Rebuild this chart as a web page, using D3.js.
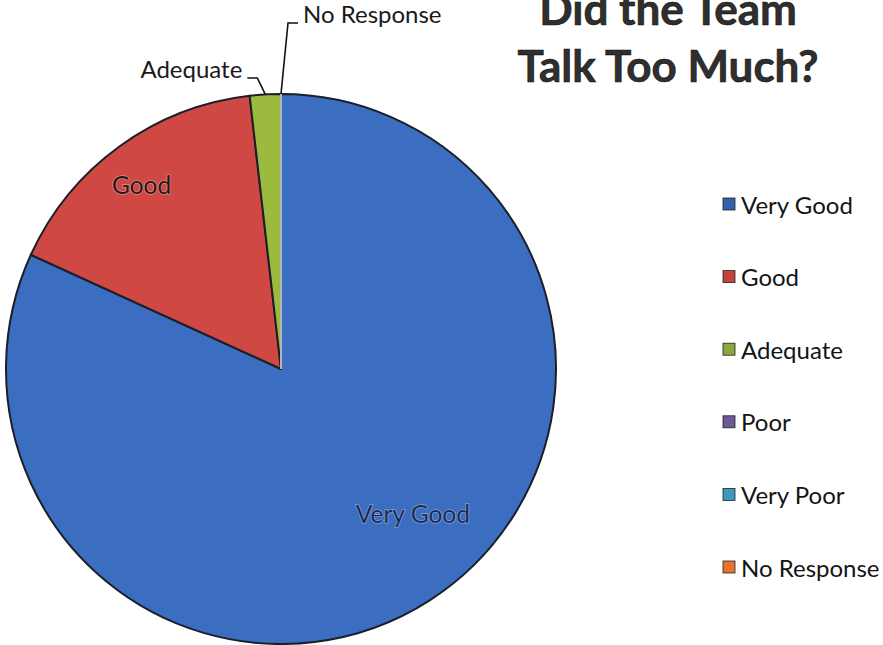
<!DOCTYPE html>
<html>
<head>
<meta charset="utf-8">
<script src="https://cdn.jsdelivr.net/npm/d3@7"></script>
<style>
  html, body { margin: 0; padding: 0; background: #fff; }
  svg { display: block; }
</style>
</head>
<body>
<svg id="chart" width="883" height="645"></svg>
<script>
// Survey answers for "Did the Team Talk Too Much?"
const categories = ["Very Good", "Good", "Adequate", "Poor", "Very Poor", "No Response"];
const counts = [45, 9, 1, 0, 0, 0];
const sliceColors = ["#3b6dc0", "#cf4844", "#9cbb3e", "#7a5fa0", "#44a3c6", "#ef7d37"];
const legendColors = ["#3562ad", "#c4413e", "#8ba83f", "#6e5896", "#3f98bd", "#e8732f"];
const titleLines = ["Did the Team", "Talk Too Much?"];

const svg = d3.select("#chart");
const cx = 281, cy = 369, R = 275;

const data = categories.map((c, i) => ({ category: c, value: counts[i], color: sliceColors[i], legend: legendColors[i] }));

const pie = d3.pie().sort(null).value(d => d.value);
const arcs = pie(data);
const arc = d3.arc().innerRadius(0).outerRadius(R);

const g = svg.append("g").attr("transform", `translate(${cx},${cy})`);

// slices
g.selectAll("path.slice")
  .data(arcs)
  .join("path")
  .attr("class", "slice")
  .attr("d", arc)
  .attr("fill", d => d.data.color)
  .attr("stroke", "#1c1f2a")
  .attr("stroke-width", 2)
  .attr("stroke-linejoin", "round");

// empty categories show as a thin light seam on the pie
g.selectAll("path.seam")
  .data(arcs.filter(d => d.data.value === 0).slice(-1))
  .join("path")
  .attr("class", "seam")
  .attr("d", arc)
  .attr("fill", "none")
  .attr("stroke", "#f4f6fa")
  .attr("stroke-width", 1.4);

// labels drawn inside the larger slices
const insideLayout = { "Very Good": { rf: 0.71, da: -0.17 }, "Good": { rf: 0.84, da: -0.02 } };
const labelFont = "Lato, 'Open Sans', sans-serif";
arcs.filter(d => insideLayout[d.data.category]).forEach(d => {
  const L = insideLayout[d.data.category];
  const a = (d.startAngle + d.endAngle) / 2 + L.da;
  const r = R * L.rf;
  g.append("text")
    .attr("x", r * Math.sin(a))
    .attr("y", -r * Math.cos(a))
    .attr("text-anchor", "middle")
    .attr("dominant-baseline", "central")
    .attr("font-family", labelFont)
    .attr("font-size", 24.5)
    .attr("fill", d.data.category === "Very Good" ? "#1d2c55" : "#2a1614")
    .attr("stroke", "rgba(255,255,255,0.35)")
    .attr("stroke-width", 1.6)
    .attr("paint-order", "stroke")
    .text(d.data.category);
});

// labels with leader lines for the thin slices at the top
const outsideLayout = {
  "Adequate": { anchor: "end", hx: -18, ty: -16.5 },
  "No Response": { anchor: "start", hx: 17, ty: -71 }
};
arcs.filter(d => outsideLayout[d.data.category]).forEach(d => {
  const L = outsideLayout[d.data.category];
  const a = (d.startAngle + d.endAngle) / 2;
  const px = R * Math.sin(a), py = -R * Math.cos(a);
  const dir = L.anchor === "end" ? 1 : -1;
  const hx = px + L.hx, ty = py + L.ty;
  const ex = hx + dir * 10;
  g.append("path")
    .attr("d", `M${px},${py}L${ex},${ty}L${hx},${ty}`)
    .attr("fill", "none")
    .attr("stroke", "#111")
    .attr("stroke-width", 1.6);
  g.append("text")
    .attr("x", hx - dir * 5)
    .attr("y", ty)
    .attr("text-anchor", L.anchor)
    .attr("font-family", labelFont)
    .attr("font-size", 24)
    .attr("fill", "#1a1a1a")
    .text(d.data.category);
});

// title
const title = svg.append("text")
  .attr("text-anchor", "middle")
  .attr("font-family", labelFont)
  .attr("font-weight", 700)
  .attr("font-size", 44)
  .attr("fill", "#2f2f2f")
  .attr("stroke", "#111")
  .attr("stroke-width", 0.6);
title.selectAll("tspan")
  .data(titleLines)
  .join("tspan")
  .attr("x", 668)
  .attr("y", (d, i) => 25 + i * 57)
  .text(d => d);

// legend
const legendY = d3.scalePoint().domain(categories).range([204, 567]);
const legend = svg.append("g");
const rows = legend.selectAll("g")
  .data(data)
  .join("g")
  .attr("transform", d => `translate(723,${legendY(d.category)})`);
rows.append("rect")
  .attr("x", 0).attr("y", -6)
  .attr("width", 12).attr("height", 12)
  .attr("fill", d => d.legend)
  .attr("stroke", "#222")
  .attr("stroke-width", 0.8);
rows.append("text")
  .attr("x", 18)
  .attr("y", 0)
  .attr("dominant-baseline", "central")
  .attr("font-family", labelFont)
  .attr("font-size", 24)
  .attr("fill", "#141414")
  .text(d => d.category);
</script>
</body>
</html>
